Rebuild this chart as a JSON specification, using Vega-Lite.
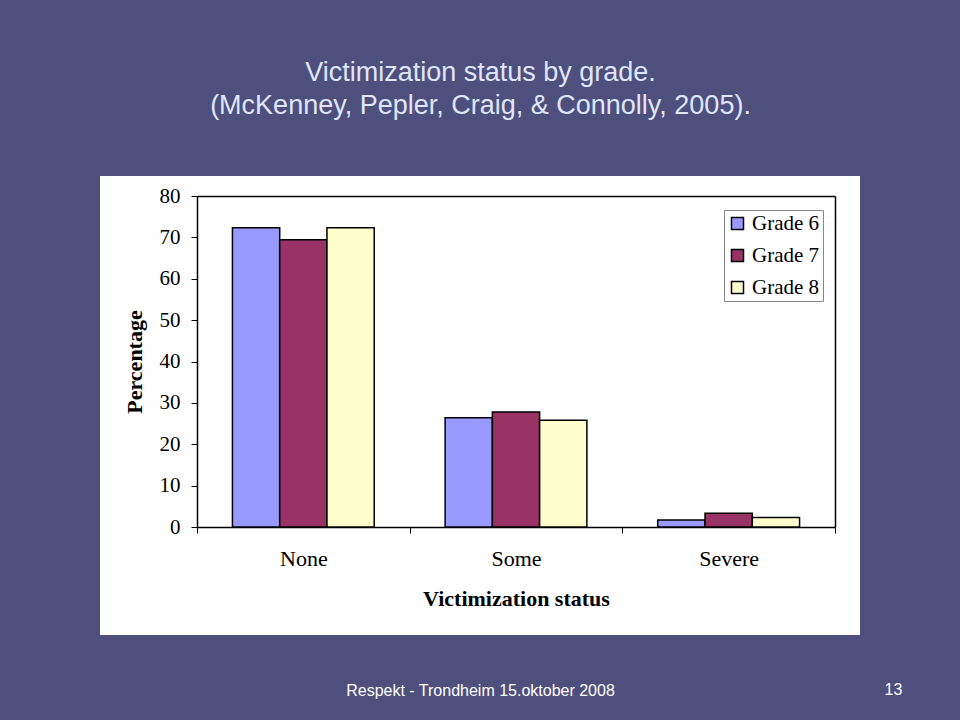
{
  "$schema": "https://vega.github.io/schema/vega-lite/v6.json",
  "width": 760,
  "height": 459,
  "autosize": {"type": "none"},
  "padding": {"left": 100, "top": 176, "right": 100, "bottom": 85},
  "background": "#4f4f7e",
  "config": {
    "view": {"fill": "white", "stroke": null},
    "axis": {"grid": false, "domainColor": "black", "tickColor": "black", "labelColor": "black", "titleColor": "black"}
  },
  "data": {
    "values": [
      {"status": "None", "grade": "Grade 6", "pct": 72.3},
      {"status": "None", "grade": "Grade 7", "pct": 69.4},
      {"status": "None", "grade": "Grade 8", "pct": 72.3},
      {"status": "Some", "grade": "Grade 6", "pct": 26.4},
      {"status": "Some", "grade": "Grade 7", "pct": 27.8},
      {"status": "Some", "grade": "Grade 8", "pct": 25.8},
      {"status": "Severe", "grade": "Grade 6", "pct": 1.7},
      {"status": "Severe", "grade": "Grade 7", "pct": 3.3},
      {"status": "Severe", "grade": "Grade 8", "pct": 2.3}
    ]
  },
  "layer": [
    {
      "mark": {"type": "bar", "stroke": "black", "strokeWidth": 1.5},
      "encoding": {
        "x": {
          "field": "status", "type": "nominal", "sort": ["None", "Some", "Severe"],
          "scale": {"range": [97, 735], "paddingInner": 0, "paddingOuter": 0},
          "axis": {
            "orient": "bottom", "offset": -108, "tickBand": "extent", "tickSize": 6, "labelPadding": 15,
            "labelAngle": 0, "labelFont": "Liberation Serif", "labelFontSize": 22,
            "title": "Victimization status", "titleFont": "Liberation Serif", "titleFontSize": 22, "titleFontWeight": "bold", "titlePadding": 19,
            "domainWidth": 1.5
          }
        },
        "xOffset": {"field": "grade", "type": "nominal", "scale": {"paddingInner": 0, "paddingOuter": 0.75}},
        "y": {
          "field": "pct", "type": "quantitative",
          "scale": {"domain": [0, 80], "range": [351, 20], "nice": false},
          "axis": {
            "orient": "left", "offset": -97, "values": [0, 10, 20, 30, 40, 50, 60, 70, 80], "tickSize": 6, "labelPadding": 11,
            "labelFont": "Liberation Serif", "labelFontSize": 21,
            "title": "Percentage", "titleFont": "Liberation Serif", "titleFontSize": 22, "titleFontWeight": "bold", "titlePadding": 13,
            "domainWidth": 1.5
          }
        },
        "color": {
          "field": "grade", "type": "nominal",
          "scale": {"domain": ["Grade 6", "Grade 7", "Grade 8"], "range": ["#9999ff", "#993366", "#ffffcc"]},
          "legend": {
            "title": null, "orient": "none", "legendX": 624, "legendY": 34,
            "fillColor": "white", "strokeColor": "#888888", "padding": 3,
            "symbolType": "square", "symbolSize": 144, "symbolStrokeColor": "black", "symbolStrokeWidth": 1.5, "symbolOpacity": 1,
            "labelFont": "Liberation Serif", "labelFontSize": 21, "labelColor": "black", "labelOffset": 4, "rowPadding": 10
          }
        }
      }
    },
    {
      "mark": {"type": "bar", "opacity": 0},
      "encoding": {
        "x": {
          "field": "status", "type": "nominal", "sort": ["None", "Some", "Severe"],
          "axis": {
            "orient": "top", "offset": -20, "labels": false, "ticks": false, "domainWidth": 1.5,
            "title": ["Victimization status by grade.", "(McKenney, Pepler, Craig, & Connolly, 2005)."],
            "titleFont": "Liberation Sans", "titleFontSize": 27, "titleFontWeight": "normal", "titleColor": "#dfe6fb",
            "titleX": 380, "titleY": -137, "titleAlign": "center", "titleBaseline": "top", "titleLineHeight": 33
          }
        },
        "y": {
          "field": "pct", "type": "quantitative",
          "axis": {"orient": "right", "offset": -25, "labels": false, "ticks": false, "title": null, "domainWidth": 1.5}
        }
      }
    },
    {
      "mark": {"type": "bar", "opacity": 0},
      "encoding": {
        "x": {
          "field": "status", "type": "nominal", "sort": ["None", "Some", "Severe"],
          "axis": {
            "orient": "bottom", "offset": 0, "labels": false, "ticks": false, "domain": false,
            "title": "Respekt - Trondheim 15.oktober 2008", "titleFont": "Liberation Sans", "titleFontSize": 16, "titleFontWeight": "normal",
            "titleColor": "white", "titleX": 380, "titleY": 55, "titleAlign": "center", "titleBaseline": "middle"
          }
        },
        "y": {
          "field": "pct", "type": "quantitative",
          "axis": {
            "orient": "right", "offset": 0, "labels": false, "ticks": false, "domain": false,
            "title": "13", "titleFont": "Liberation Sans", "titleFontSize": 16, "titleFontWeight": "normal",
            "titleColor": "white", "titleAngle": 0, "titleX": 33, "titleY": 513, "titleAlign": "center", "titleBaseline": "middle"
          }
        }
      }
    }
  ],
  "resolve": {"axis": {"x": "independent", "y": "independent"}}
}
